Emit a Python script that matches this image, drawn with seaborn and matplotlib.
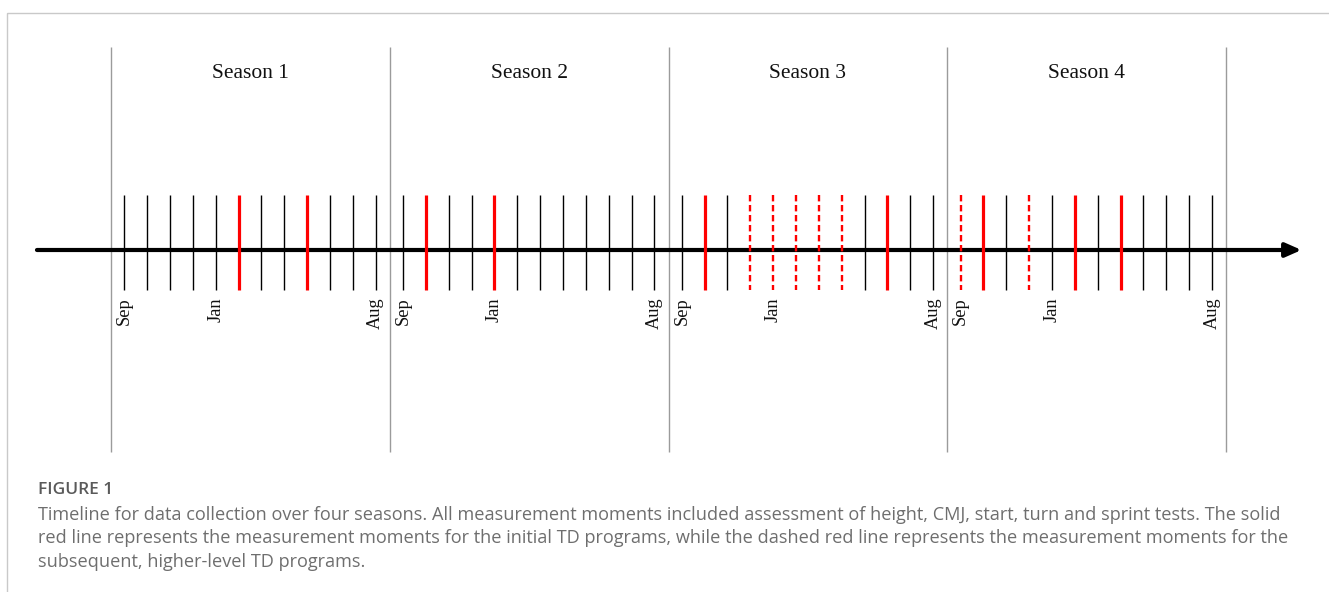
import matplotlib
matplotlib.use("Agg")
import matplotlib.pyplot as plt
import seaborn as sns
import pandas as pd
from matplotlib.patches import Rectangle

# ---------------- data ----------------
seasons = ["Season 1", "Season 2", "Season 3", "Season 4"]
months = ["Sep", "Oct", "Nov", "Dec", "Jan", "Feb", "Mar", "Apr", "May", "Jun", "Jul", "Aug"]
labeled_months = ["Sep", "Jan", "Aug"]
# measurement type per month: b = no test (black), s = solid red (initial TD), d = dashed red (higher-level TD)
season1_kind = ["b", "b", "b", "b", "b", "s", "b", "b", "s", "b", "b", "b"]
season2_kind = ["b", "s", "b", "b", "s", "b", "b", "b", "b", "b", "b", "b"]
season3_kind = ["b", "s", "b", "d", "d", "d", "d", "d", "b", "s", "b", "b"]
season4_kind = ["d", "s", "b", "d", "b", "s", "b", "s", "b", "b", "b", "b"]
kinds = [season1_kind, season2_kind, season3_kind, season4_kind]

caption_title = "FIGURE 1"
caption_lines = [
    "Timeline for data collection over four seasons. All measurement moments included assessment of height, CMJ, start, turn and sprint tests. The solid",
    "red line represents the measurement moments for the initial TD programs, while the dashed red line represents the measurement moments for the",
    "subsequent, higher-level TD programs.",
]

# ---------------- layout ----------------
SEASON_W = 12.2     # width of a season in month units
SEP_OFF = 0.58      # offset of September tick from season start
W, H = 1329, 592
PX_PER_UNIT = 22.85
X0_PX = 111

rows = []
for s, (name, klist) in enumerate(zip(seasons, kinds)):
    for m, (mon, k) in enumerate(zip(months, klist)):
        rows.append({"season": name, "month": mon, "kind": k,
                     "x": s * SEASON_W + SEP_OFF + m})
df = pd.DataFrame(rows)

sns.set_theme(style="white")
plt.rcParams["lines.scale_dashes"] = False

fig = plt.figure(figsize=(W / 100, H / 100), dpi=100)
ax = fig.add_axes([0, 0, 1, 1])
ax.set_xlim(-X0_PX / PX_PER_UNIT, (W - X0_PX) / PX_PER_UNIT)
ax.set_ylim(H, 0)
ax.axis("off")

# outer frame
ax.add_patch(Rectangle((-(X0_PX - 7) / PX_PER_UNIT, 13), 80, 700,
                       fill=False, edgecolor="#c9c9c9", lw=1.0, zorder=0))

# season boundaries
bounds = [s * SEASON_W for s in range(len(seasons) + 1)]
ax.vlines(bounds, 47, 452, color="#9b9b9b", lw=1.0, zorder=1)

# season labels
for s, name in enumerate(seasons):
    ax.text(s * SEASON_W + SEASON_W / 2, 73.5, name, ha="center", va="center",
            fontsize=15.5, family="Liberation Serif", color="#111111")

# main time axis with arrow
ax.annotate("", xy=(len(seasons) * SEASON_W + 3.3, 250), xytext=(-3.24, 250),
            arrowprops=dict(arrowstyle="-|>,head_length=0.95,head_width=0.42",
                            lw=3.0, color="black", shrinkA=0, shrinkB=0,
                            mutation_scale=10), zorder=2)

# monthly ticks
blk = df[df.kind == "b"]
sol = df[df.kind == "s"]
das = df[df.kind == "d"]
ax.vlines(blk.x, 195, 290, color="black", lw=1.0, zorder=3)
ax.vlines(sol.x, 195, 290, color="#ff0000", lw=2.3, zorder=4)
ax.vlines(das.x, 195, 290, color="#ff0000", lw=1.7, linestyles=[(0, (4.6, 2.6))], zorder=4)

# month labels
lab = df[df.month.isin(labeled_months)]
for _, r in lab.iterrows():
    ax.text(r.x, 297, r.month, rotation=90, ha="center", va="top",
            fontsize=13.2, family="Liberation Serif", color="#111111")

# caption
ax.text(-(X0_PX - 38) / PX_PER_UNIT, 490, caption_title, ha="left", va="center",
        fontsize=12.5, family="Open Sans", fontweight="semibold", color="#5a5a5a")
for i, line in enumerate(caption_lines):
    ax.text(-(X0_PX - 38) / PX_PER_UNIT, 515 + i * 23.3, line, ha="left", va="center",
            fontsize=13.1, family="Open Sans", color="#6e6e6e")

fig.savefig("out.png", dpi=100)
